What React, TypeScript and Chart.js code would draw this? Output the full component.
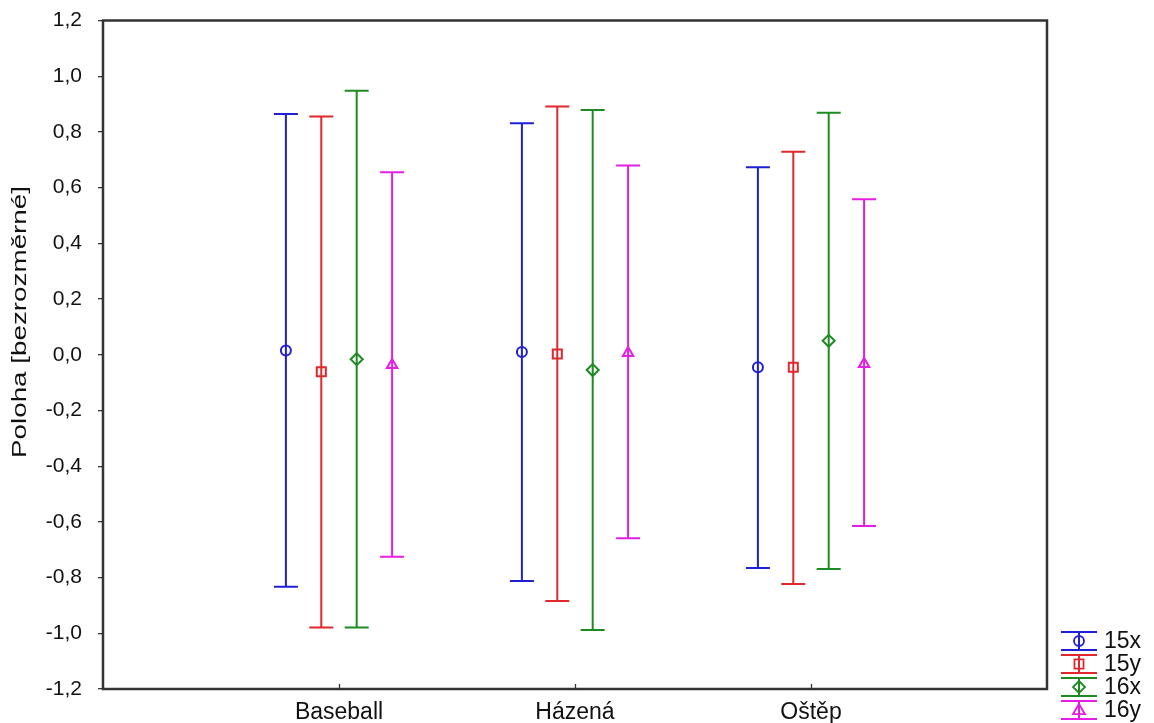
import React, { useEffect, useRef } from 'react';
import { Chart, registerables } from 'chart.js';

Chart.register(...registerables);

// ---- data ----
const categories = ['Baseball', 'Házená', 'Oštěp'];
const seriesNames = ['15x', '15y', '16x', '16y'];

const mean15x = [0.015, 0.01, -0.045];
const low15x = [-0.833, -0.812, -0.766];
const high15x = [0.864, 0.831, 0.673];

const mean15y = [-0.061, 0.003, -0.045];
const low15y = [-0.979, -0.884, -0.823];
const high15y = [0.855, 0.891, 0.729];

const mean16x = [-0.016, -0.055, 0.05];
const low16x = [-0.979, -0.988, -0.769];
const high16x = [0.948, 0.879, 0.869];

const mean16y = [-0.037, 0.006, -0.033];
const low16y = [-0.725, -0.659, -0.615];
const high16y = [0.655, 0.679, 0.558];

const yTitle = 'Poloha [bezrozměrné]';

const groupOffsets = [-0.225, -0.075, 0.075, 0.225];
const seriesColors = ['#1f1fd6', '#e0282c', '#1e8a22', '#e41ee4'];
const seriesMarkers = ['circle', 'rect', 'rectRot', 'triangle'];
const markerRadius = [5, 6.4, 6, 6];

const means = [mean15x, mean15y, mean16x, mean16y];
const lows = [low15x, low15y, low16x, low16y];
const highs = [high15x, high15y, high16x, high16y];

const yMin = -1.2;
const yMax = 1.2;
const yStep = 0.2;

const FONT = '"Liberation Sans", Arial, sans-serif';

function drawMarker(ctx: CanvasRenderingContext2D, style: string, x: number, y: number, r: number) {
  ctx.beginPath();
  if (style === 'circle') {
    ctx.arc(x, y, r, 0, Math.PI * 2);
  } else if (style === 'rect') {
    const s = r * Math.SQRT1_2;
    ctx.rect(x - s, y - s, 2 * s, 2 * s);
  } else if (style === 'rectRot') {
    ctx.moveTo(x, y - r);
    ctx.lineTo(x + r, y);
    ctx.lineTo(x, y + r);
    ctx.lineTo(x - r, y);
    ctx.closePath();
  } else {
    ctx.moveTo(x, y - r);
    ctx.lineTo(x + r, y + r * 0.7);
    ctx.lineTo(x - r, y + r * 0.7);
    ctx.closePath();
  }
  ctx.stroke();
}

const errorBarPlugin = {
  id: 'errorBars',
  beforeDatasetsDraw(chart: any) {
    const ctx = chart.ctx as CanvasRenderingContext2D;
    const xs = chart.scales.x;
    const ys = chart.scales.y;
    ctx.save();
    ctx.lineWidth = 2;
    for (let s = 0; s < seriesNames.length; s++) {
      ctx.strokeStyle = seriesColors[s];
      for (let c = 0; c < categories.length; c++) {
        const px = xs.getPixelForValue(c + 1 + groupOffsets[s]);
        const pTop = ys.getPixelForValue(highs[s][c]);
        const pBot = ys.getPixelForValue(lows[s][c]);
        ctx.beginPath();
        ctx.moveTo(px, pTop);
        ctx.lineTo(px, pBot);
        ctx.moveTo(px - 12, pTop);
        ctx.lineTo(px + 12, pTop);
        ctx.moveTo(px - 12, pBot);
        ctx.lineTo(px + 12, pBot);
        ctx.stroke();
      }
    }
    ctx.restore();
  },
  afterDraw(chart: any) {
    const ctx = chart.ctx as CanvasRenderingContext2D;
    const a = chart.chartArea;
    const xs = chart.scales.x;
    ctx.save();
    // frame
    ctx.strokeStyle = '#333';
    ctx.lineWidth = 2.5;
    ctx.strokeRect(a.left, a.top, a.right - a.left, a.bottom - a.top);
    // inward x ticks
    ctx.lineWidth = 1.3;
    ctx.beginPath();
    for (let c = 0; c < categories.length; c++) {
      const px = Math.round(xs.getPixelForValue(c + 1)) + 0.5;
      ctx.moveTo(px, a.bottom);
      ctx.lineTo(px, a.bottom - 5);
    }
    ctx.stroke();

    // y title (stretched along its length like the reference)
    ctx.save();
    ctx.font = `20px ${FONT}`;
    ctx.fillStyle = '#111';
    ctx.textAlign = 'center';
    ctx.textBaseline = 'middle';
    const w = ctx.measureText(yTitle).width;
    ctx.translate(20, 322);
    ctx.rotate(-Math.PI / 2);
    ctx.scale(272 / w, 1);
    ctx.fillText(yTitle, 0, 0);
    ctx.restore();

    // legend
    const lx1 = 1061;
    const lx2 = 1097;
    const lcx = (lx1 + lx2) / 2;
    ctx.font = `23px ${FONT}`;
    ctx.textBaseline = 'middle';
    ctx.textAlign = 'left';
    for (let s = 0; s < seriesNames.length; s++) {
      const cy = 641 + 23 * s;
      ctx.strokeStyle = seriesColors[s];
      ctx.lineWidth = 2;
      ctx.beginPath();
      ctx.moveTo(lx1, cy - 9);
      ctx.lineTo(lx2, cy - 9);
      ctx.moveTo(lx1, cy + 9);
      ctx.lineTo(lx2, cy + 9);
      ctx.moveTo(lcx, cy - 9);
      ctx.lineTo(lcx, cy + 9);
      ctx.stroke();
      ctx.lineWidth = 1.8;
      drawMarker(ctx, seriesMarkers[s], lcx, cy, markerRadius[s]);
      ctx.fillStyle = '#111';
      ctx.fillText(seriesNames[s], 1104, cy + 1);
    }
    ctx.restore();
  },
};

export default function App() {
  const ref = useRef<HTMLCanvasElement | null>(null);

  useEffect(() => {
    document.body.style.margin = '0';
    if (!ref.current) return;
    const datasets = seriesNames.map((name, s) => ({
      label: name,
      data: categories.map((_, c) => ({ x: c + 1 + groupOffsets[s], y: means[s][c] })),
      pointStyle: seriesMarkers[s] as any,
      pointRadius: markerRadius[s],
      pointBorderWidth: 2,
      borderColor: seriesColors[s],
      backgroundColor: 'rgba(0,0,0,0)',
      showLine: false,
    }));

    const chart = new Chart(ref.current, {
      type: 'scatter',
      data: { datasets },
      plugins: [errorBarPlugin],
      options: {
        animation: false,
        responsive: true,
        maintainAspectRatio: false,
        layout: { autoPadding: false, padding: { left: 0, right: 107, top: 20.5, bottom: 0 } },
        plugins: {
          legend: { display: false },
          tooltip: { enabled: false },
        },
        scales: {
          x: {
            type: 'linear',
            min: 0,
            max: 4,
            afterFit: (s: any) => {
              s.height = 34;
              s.paddingLeft = 0;
              s.paddingRight = 0;
            },
            afterBuildTicks: (s: any) => {
              s.ticks = [0, 1, 2, 3, 4].map((v) => ({ value: v }));
            },
            grid: { display: false, drawTicks: false },
            border: { display: false },
            ticks: {
              padding: 10,
              autoSkip: false,
              maxRotation: 0,
              color: '#111',
              font: { family: FONT, size: 23 },
              callback: (v: any) => {
                const i = Math.round(Number(v)) - 1;
                return i >= 0 && i < categories.length ? categories[i] : '';
              },
            },
          },
          y: {
            type: 'linear',
            min: yMin,
            max: yMax,
            afterFit: (s: any) => {
              s.width = 103;
              s.paddingTop = 0;
              s.paddingBottom = 0;
            },
            grid: {
              drawOnChartArea: false,
              drawTicks: true,
              tickLength: 5,
              color: '#333',
              lineWidth: 1.3,
            },
            border: { display: false },
            ticks: {
              stepSize: yStep,
              padding: 16,
              color: '#111',
              font: { family: FONT, size: 21 },
              callback: (v: any) => {
                let n = Math.round(Number(v) * 10) / 10;
                if (Object.is(n, -0)) n = 0;
                return n.toFixed(1).replace('.', ',');
              },
            },
          },
        },
      },
    });
    return () => chart.destroy();
  }, []);

  return (
    <div style={{ position: 'relative', width: 1154, height: 723 }}>
      <canvas ref={ref} />
    </div>
  );
}
